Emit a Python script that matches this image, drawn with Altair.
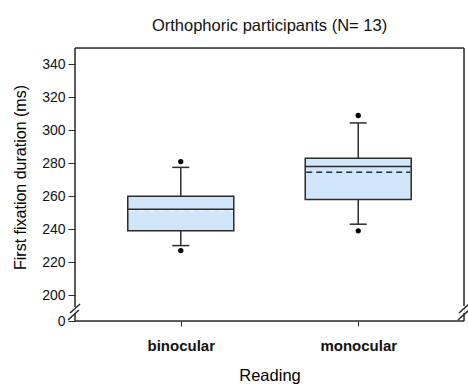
import altair as alt
import pandas as pd

# ---- data ----
conditions = ["binocular", "monocular"]
q1 = [239, 258]
median = [252, 278]
q3 = [260, 283]
mean = [251, 274.5]
whisk_low = [230, 243]
whisk_high = [277.5, 304.5]
out_low = [227, 239]
out_high = [281, 309]
y_ticks = [0, 200, 220, 240, 260, 280, 300, 320, 340]

df = pd.DataFrame({
    "Reading": conditions, "q1": q1, "median": median, "q3": q3, "mean": mean,
    "wlo": whisk_low, "whi": whisk_high, "olo": out_low, "ohi": out_high,
})

FONT = "Liberation Sans"
W, H = 389, 273
BOX_W = 106
CAP_W = 17
EDGE = "#2b2b2b"
FILL = "#d2e6fa"

yscale = alt.Scale(domain=[0, 200, 350], range=[H, 247, 0], zero=False, nice=False)
ytitle = "First fixation duration (ms)"

xenc = alt.X("Reading:N", sort=conditions,
             scale=alt.Scale(type="point", padding=0.596),
             axis=alt.Axis(title="Reading", labelFontWeight="bold", labelFontSize=15,
                           labelPadding=12, tickSize=5, domain=False, labelAngle=0,
                           titleFontSize=16.5, titleFontWeight="normal", titlePadding=14,
                           titleFont=FONT, labelFont=FONT, tickColor=EDGE, labelColor="#111"))
x2enc = alt.X2("Reading:N")

def Y(field):
    return alt.Y(f"{field}:Q", scale=yscale, title=ytitle,
                 axis=alt.Axis(values=y_ticks, grid=False, domain=False, tickSize=7,
                               labelPadding=3, labelFontSize=14, labelFont=FONT,
                               titleFont=FONT, titleFontSize=16, titleFontWeight="normal",
                               titlePadding=13, titleY=129, tickColor=EDGE, labelColor="#111"))

base = alt.Chart(df)

box = base.mark_bar(size=BOX_W, fill=FILL, stroke=EDGE, strokeWidth=1.5).encode(
    x=xenc, y=Y("q1"), y2="q3")
wl = base.mark_rule(color=EDGE, strokeWidth=1.5).encode(x=xenc, y=Y("wlo"), y2="q1")
wh = base.mark_rule(color=EDGE, strokeWidth=1.5).encode(x=xenc, y=Y("q3"), y2="whi")
cap_lo = base.mark_rule(color=EDGE, strokeWidth=1.5, xOffset=-CAP_W / 2, x2Offset=CAP_W / 2).encode(
    x=xenc, x2=x2enc, y=Y("wlo"))
cap_hi = base.mark_rule(color=EDGE, strokeWidth=1.5, xOffset=-CAP_W / 2, x2Offset=CAP_W / 2).encode(
    x=xenc, x2=x2enc, y=Y("whi"))
med = base.mark_rule(color=EDGE, strokeWidth=1.5, xOffset=-BOX_W / 2, x2Offset=BOX_W / 2).encode(
    x=xenc, x2=x2enc, y=Y("median"))
mn = base.mark_rule(strokeWidth=1.5, strokeDash=[6, 4], xOffset=-BOX_W / 2 + 1,
                    x2Offset=BOX_W / 2 - 1).encode(
    x=xenc, x2=x2enc, y=Y("mean"),
    color=alt.Color("Reading:N", scale=alt.Scale(domain=conditions, range=["#eef3f8", "#1f2f44"]),
                    legend=None))
dots_lo = base.mark_circle(size=28, color="#000", opacity=1).encode(x=xenc, y=Y("olo"))
dots_hi = base.mark_circle(size=28, color="#000", opacity=1).encode(x=xenc, y=Y("ohi"))

# ---- frame with axis breaks (decoration) ----
one = pd.DataFrame({"k": [0]})
fr = alt.Chart(one)
def seg(x1, y1, x2, y2):
    return fr.mark_rule(color=EDGE, strokeWidth=1.5).encode(
        x=alt.value(x1), y=alt.value(y1), x2=alt.value(x2), y2=alt.value(y2))

frame = [
    seg(0, 0, W, 0),
    seg(0, 0, 0, 259),
    seg(0, 265, 0, H),
    seg(W, 0, W, 258),
    seg(W, 265, W, H),
    seg(0, H, W, H),
    # break marks left
    seg(-5, 265, 5, 256),
    seg(-7, 272, 4, 262),
    # break marks right
    seg(W - 5, 265, W + 5, 256),
    seg(W - 6, 272, W + 5, 262),
]

chart = alt.layer(box, wl, wh, cap_lo, cap_hi, med, mn, dots_lo, dots_hi, *frame).properties(
    width=W, height=H,
    title=alt.TitleParams("Orthophoric participants (N= 13)", font=FONT, fontSize=16.5,
                          fontWeight="normal", anchor="middle", frame="group", offset=13,
                          color="#111"),
    autosize=alt.AutoSizeParams(type="none"),
    padding={"left": 75, "top": 48, "right": 4, "bottom": 66},
).configure_view(stroke=None).configure(background="white")

chart.save("out.html", embed_options={"renderer": "svg", "actions": False})
